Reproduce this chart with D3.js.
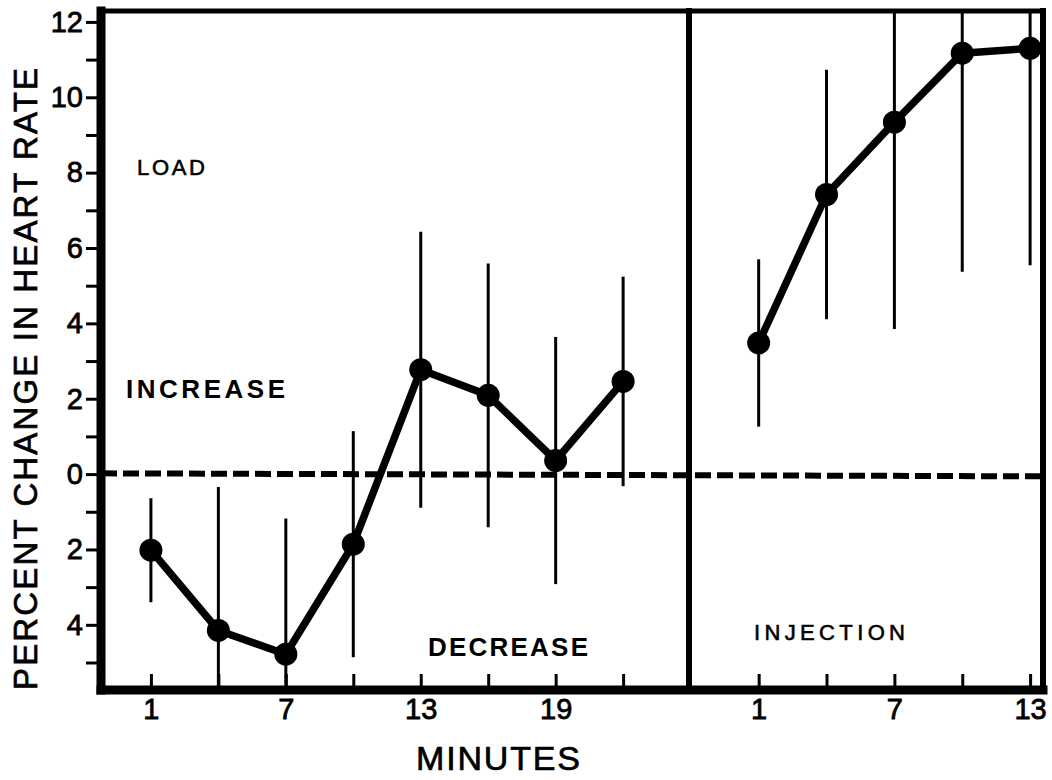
<!DOCTYPE html>
<html>
<head>
<meta charset="utf-8">
<script src="https://cdn.jsdelivr.net/npm/d3@7"></script>
<style>
  html, body { margin: 0; padding: 0; background: #fff; }
  svg { display: block; }
  text { font-family: "Liberation Sans", Arial, sans-serif; fill: #000; }
</style>
</head>
<body>
<svg id="chart" width="1052" height="780"></svg>
<script>
// Percent change in heart rate during load (left panel) and after injection (right panel)
const loadMinutes = [1, 4, 7, 10, 13, 16, 19, 22];
const loadMeans   = [-2.02, -4.15, -4.78, -1.86, 2.77, 2.09, 0.36, 2.46];
const loadErrors  = [1.38, 3.81, 3.60, 3.00, 3.66, 3.50, 3.28, 2.78];

const injMinutes = [1, 4, 7, 10, 13];
const injMeans   = [3.48, 7.42, 9.34, 11.17, 11.30];
const injErrors  = [2.22, 3.31, 5.49, 5.80, 5.76];

const yTickValues = d3.range(-5, 13);
const loadTickMinutes = [1, 4, 7, 10, 13, 16, 19, 22];
const loadTickLabels  = [1, 7, 13, 19];
const injTickMinutes  = [1, 4, 7, 10, 13];
const injTickLabels   = [1, 7, 13];

const svg = d3.select("#chart");

const plotTop = 11, plotBottom = 690, plotLeft = 101, divider = 689, plotRight = 1043;

const y = d3.scaleLinear().domain([-5.73, 12.29]).range([plotBottom, plotTop]);
const xLoad = d3.scaleLinear().domain([-1.22, 24.93]).range([plotLeft, divider]);
const xInj  = d3.scaleLinear().domain([-2.08, 13.57]).range([divider, plotRight]);

svg.append("defs").append("clipPath").attr("id", "plotClip")
  .append("rect").attr("x", plotLeft).attr("y", plotTop)
  .attr("width", plotRight - plotLeft).attr("height", plotBottom - plotTop);

// zero reference line
svg.append("line")
  .attr("x1", plotLeft).attr("x2", plotRight)
  .attr("y1", y(0.02)).attr("y2", y(-0.06))
  .attr("stroke", "#000").attr("stroke-width", 6)
  .attr("stroke-dasharray", "16,6");

function drawPanel(x, minutes, means, errors) {
  const g = svg.append("g").attr("clip-path", "url(#plotClip)");
  const data = minutes.map((m, i) => ({ m, v: means[i], e: errors[i] }));
  g.selectAll("line.err").data(data).join("line")
    .attr("class", "err")
    .attr("x1", d => x(d.m)).attr("x2", d => x(d.m))
    .attr("y1", d => y(d.v + d.e)).attr("y2", d => y(d.v - d.e))
    .attr("stroke", "#000").attr("stroke-width", 3);
  g.append("path").datum(data)
    .attr("fill", "none").attr("stroke", "#000").attr("stroke-width", 7.5)
    .attr("stroke-linejoin", "round")
    .attr("d", d3.line().x(d => x(d.m)).y(d => y(d.v)));
  g.selectAll("circle").data(data).join("circle")
    .attr("cx", d => x(d.m)).attr("cy", d => y(d.v)).attr("r", 11.5)
    .attr("fill", "#000");
}
drawPanel(xLoad, loadMinutes, loadMeans, loadErrors);
drawPanel(xInj, injMinutes, injMeans, injErrors);

// y axis
const yAxis = d3.axisLeft(y).tickValues(yTickValues).tickSize(11).tickPadding(3)
  .tickFormat(d => d % 2 === 0 ? Math.abs(d) : "");
const gy = svg.append("g").attr("transform", `translate(${plotLeft - 4},0)`).call(yAxis);
gy.select(".domain").remove();
gy.selectAll(".tick line").attr("stroke", "#000").attr("stroke-width", 3);
gy.selectAll(".tick text").attr("font-size", 29).attr("stroke", "#000").attr("stroke-width", 0.8)
  .attr("font-family", "Liberation Sans, Arial, sans-serif");

// x axes
function xAxisFor(x, ticks, labels) {
  const ax = d3.axisBottom(x).tickValues(ticks).tickSize(-12).tickPadding(12)
    .tickFormat(d => labels.includes(d) ? d : "");
  const g = svg.append("g").attr("transform", `translate(0,${plotBottom - 4})`).call(ax);
  g.select(".domain").remove();
  g.selectAll(".tick line").attr("stroke", "#000").attr("stroke-width", 3);
  g.selectAll(".tick text").attr("font-size", 29).attr("stroke", "#000").attr("stroke-width", 0.8)
    .attr("font-family", "Liberation Sans, Arial, sans-serif");
}
xAxisFor(xLoad, loadTickMinutes, loadTickLabels);
xAxisFor(xInj, injTickMinutes, injTickLabels);

// frame
const frame = svg.append("g").attr("stroke", "#000").attr("stroke-linecap", "square");
frame.append("line").attr("x1", plotLeft).attr("x2", plotLeft).attr("y1", plotTop).attr("y2", plotBottom).attr("stroke-width", 9);
frame.append("line").attr("x1", plotLeft).attr("x2", plotRight).attr("y1", plotBottom).attr("y2", plotBottom).attr("stroke-width", 9);
frame.append("line").attr("x1", plotLeft).attr("x2", plotRight).attr("y1", plotTop).attr("y2", plotTop).attr("stroke-width", 5);
frame.append("line").attr("x1", plotRight).attr("x2", plotRight).attr("y1", plotTop).attr("y2", plotBottom).attr("stroke-width", 6);
frame.append("line").attr("x1", divider).attr("x2", divider).attr("y1", plotTop).attr("y2", plotBottom).attr("stroke-width", 6);

// titles
svg.append("text")
  .attr("transform", "translate(37,379) rotate(-90)")
  .attr("text-anchor", "middle")
  .attr("font-size", 33).attr("stroke", "#000").attr("stroke-width", 0.7)
  .attr("textLength", 622).attr("lengthAdjust", "spacing")
  .text("PERCENT CHANGE IN HEART RATE");

svg.append("text")
  .attr("x", 416).attr("y", 770)
  .attr("font-size", 34).attr("stroke", "#000").attr("stroke-width", 0.7)
  .attr("textLength", 164).attr("lengthAdjust", "spacing")
  .text("MINUTES");

// panel annotations
const notes = [
  { t: "LOAD", x: 137, y: 175, size: 22, len: 68, bold: false },
  { t: "INCREASE", x: 126, y: 398, size: 26, len: 159, bold: true },
  { t: "DECREASE", x: 428, y: 656, size: 26, len: 160, bold: true },
  { t: "INJECTION", x: 754, y: 640, size: 22, len: 151, bold: false }
];
svg.selectAll("text.note").data(notes).join("text")
  .attr("class", "note")
  .attr("x", d => d.x).attr("y", d => d.y)
  .attr("font-size", d => d.size)
  .attr("font-weight", d => d.bold ? "bold" : "normal")
  .attr("stroke", "#000").attr("stroke-width", d => d.bold ? 0 : 0.6)
  .attr("textLength", d => d.len).attr("lengthAdjust", "spacing")
  .text(d => d.t);
</script>
</body>
</html>
